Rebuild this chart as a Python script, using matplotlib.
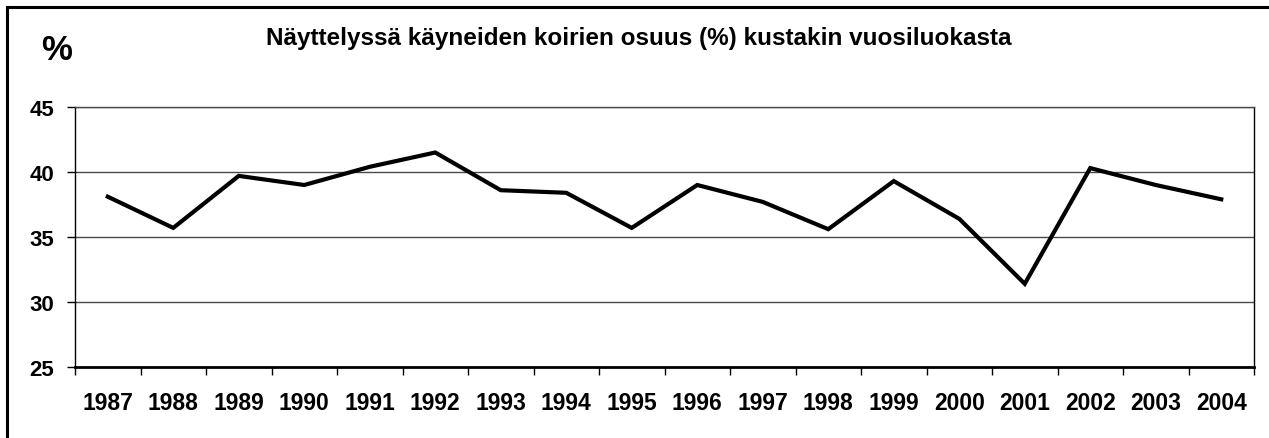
import matplotlib.pyplot as plt
from matplotlib.lines import Line2D

years = ["1987", "1988", "1989", "1990", "1991", "1992", "1993", "1994", "1995",
         "1996", "1997", "1998", "1999", "2000", "2001", "2002", "2003", "2004"]
share = [38.1, 35.7, 39.7, 39.0, 40.4, 41.5, 38.6, 38.4, 35.7,
         39.0, 37.7, 35.6, 39.3, 36.4, 31.4, 40.3, 39.0, 37.9]
y_ticks = [25, 30, 35, 40, 45]

title = "Näyttelyssä käyneiden koirien osuus (%) kustakin vuosiluokasta"

plt.rcParams['font.family'] = ['Liberation Sans', 'DejaVu Sans']
plt.rcParams['font.weight'] = 'bold'

fig = plt.figure(figsize=(12.69, 4.39), dpi=100)
ax = fig.add_axes([75 / 1269, 1 - 368 / 439, (1254 - 75) / 1269, (368 - 108) / 439])

x = list(range(len(years)))
ax.plot(x, share, color='black', lw=3, solid_joinstyle='miter')

ax.set_xlim(-0.5, len(years) - 0.5)
ax.set_ylim(25, 45)
ax.set_yticks(y_ticks)
ax.set_yticklabels([str(v) for v in y_ticks], fontsize=16, fontweight='bold')
for v in y_ticks[1:]:
    ax.axhline(v, color='#4a4a4a', lw=1, zorder=0)

# category labels centered, tick marks between categories
ax.set_xticks(x)
ax.set_xticklabels(years, fontsize=16.5, fontweight='bold')
ax.tick_params(axis='x', which='major', length=0, pad=17)
ax.set_xticks([i - 0.5 for i in range(len(years) + 1)], minor=True)
ax.tick_params(axis='x', which='minor', length=6, width=1, direction='out', color='black')
ax.tick_params(axis='y', length=6, width=1, direction='out', pad=9)

for s in ['left', 'right', 'top']:
    ax.spines[s].set_linewidth(1)
    ax.spines[s].set_color('black')
ax.spines['top'].set_color('#4a4a4a')
ax.spines['bottom'].set_linewidth(2)

fig.text(639 / 1269, 1 - 45.5 / 439, title, ha='center', va='baseline', fontsize=17.5, fontweight='bold')
fig.text(57 / 1269, 1 - 50 / 439, "%", ha='center', va='center', fontsize=25, fontweight='bold')

# chart area border (only top and left edges are visible in the crop)
fig.add_artist(Line2D([7 / 1269, 1.0], [1 - 7.5 / 439, 1 - 7.5 / 439], color='black', lw=2.2, transform=fig.transFigure))
fig.add_artist(Line2D([7 / 1269, 7 / 1269], [0.0, 1 - 7.5 / 439], color='black', lw=2.2, transform=fig.transFigure))

fig.savefig("out.png", dpi=100, facecolor='white')
